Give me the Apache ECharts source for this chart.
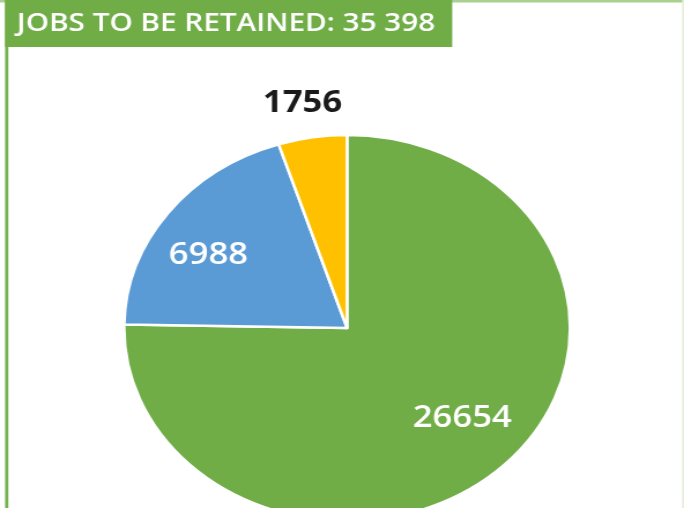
<!DOCTYPE html>
<html>
<head>
<meta charset="utf-8">
<script src="https://cdn.jsdelivr.net/npm/echarts@6/dist/echarts.min.js"></script>
<style>
html,body{margin:0;padding:0;overflow:hidden;background:#fff;width:684px;height:508px;}
#chart{width:592px;height:508px;transform:scaleX(1.1554);transform-origin:0 0;}
</style>
</head>
<body>
<div id="chart"></div>
<script>
const titleText = 'JOBS TO BE RETAINED: 35 398';
const categories = ['Group A', 'Group B', 'Group C'];
const values = [26654, 6988, 1756];
const colors = ['#70AD47', '#5B9BD5', '#FFC000'];
const labelColors = ['#ffffff', '#ffffff', '#1a1a1a'];
const labelWeights = [600, 600, 'bold'];
const labelLineLengths = [-55, -51, 36];
const labelShift = [[3, -8], [-6, 12], [-3, 1.5]];

const chart = echarts.init(document.getElementById('chart'), null, {renderer: 'canvas'});

const data = values.map((v, i) => ({
  name: categories[i],
  value: v,
  itemStyle: {color: colors[i]},
  label: {color: labelColors[i], fontWeight: labelWeights[i]},
  labelLine: {length: labelLineLengths[i], length2: 0, show: false}
}));

chart.setOption({
  animation: false,
  backgroundColor: '#ffffff',
  graphic: [
    {type: 'rect', shape: {x: 0, y: 0, width: 592, height: 2.5}, style: {fill: '#a9d08e'}, z: 1},
    {type: 'rect', shape: {x: 4.4, y: 0, width: 2.8, height: 508}, style: {fill: '#78b150'}, z: 1},
    {type: 'rect', shape: {x: 590.4, y: 0, width: 1.6, height: 508}, style: {fill: '#e4efdd'}, z: 1},
    {type: 'rect', shape: {x: 4.4, y: 0, width: 387, height: 47}, style: {fill: '#70AD47'}, z: 2},
    {type: 'text', x: 14.5, y: 24, style: {text: titleText, fill: '#ffffff', font: '600 25.7px "Open Sans"', textVerticalAlign: 'middle', textAlign: 'left'}, z: 3}
  ],
  series: [{
    type: 'pie',
    center: [300.4, 328],
    radius: [0, 193],
    startAngle: 90,
    clockwise: true,
    avoidLabelOverlap: false,
    itemStyle: {borderColor: '#ffffff', borderWidth: 2.5},
    label: {
      show: true,
      position: 'outside',
      formatter: '{c}',
      fontFamily: 'Open Sans',
      fontSize: 30,
      distanceToLabelLine: 0
    },
    labelLayout: function (p) {
      const s = labelShift[p.dataIndex];
      return {align: 'center', verticalAlign: 'middle', dx: s[0], dy: s[1]};
    },
    emphasis: {disabled: true},
    data: data
  }]
});
</script>
</body>
</html>
